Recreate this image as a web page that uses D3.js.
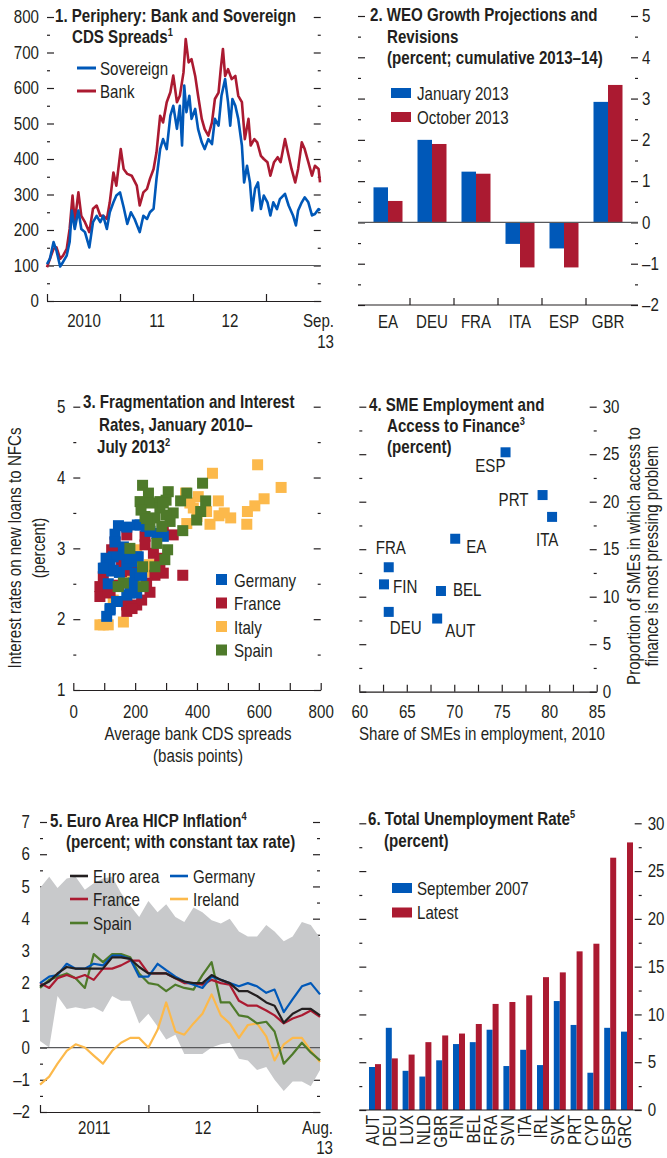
<!DOCTYPE html>
<html>
<head>
<meta charset="utf-8">
<script src="https://cdnjs.cloudflare.com/ajax/libs/d3/7.8.5/d3.min.js"></script>
<style>
body { margin: 0; background: #fff; }
svg text { font-family: "Liberation Sans", Arial, sans-serif; font-size: 18px; fill: #231f20; }
svg text.title { font-weight: bold; font-size: 18px; }
.tick line, .domain { stroke: #231f20; stroke-width: 1.2; }
</style>
</head>
<body>
<svg id="chart" width="667" height="1158"></svg>
<script>
// ---- panel 1: CDS spreads (decimal year, basis points)
let sovereign = [[2010.00,104],[2010.04,119],[2010.09,166],[2010.13,142],[2010.18,97],[2010.22,110],[2010.27,128],[2010.31,166],[2010.34,255],[2010.38,203],[2010.43,255],[2010.47,203],[2010.52,194],[2010.58,151],[2010.63,222],[2010.68,240],[2010.73,222],[2010.77,240],[2010.82,203],[2010.86,250],[2010.91,278],[2010.95,297],[2011.00,306],[2011.05,264],[2011.10,217],[2011.15,250],[2011.20,231],[2011.27,194],[2011.32,240],[2011.37,231],[2011.41,250],[2011.46,260],[2011.50,344],[2011.55,428],[2011.59,456],[2011.64,428],[2011.69,522],[2011.73,550],[2011.78,485],[2011.82,550],[2011.85,438],[2011.88,607],[2011.91,532],[2011.95,578],[2011.98,513],[2012.03,541],[2012.07,484],[2012.12,447],[2012.16,428],[2012.21,456],[2012.26,442],[2012.30,513],[2012.35,494],[2012.39,578],[2012.44,625],[2012.48,560],[2012.51,494],[2012.54,569],[2012.58,550],[2012.62,513],[2012.67,438],[2012.70,334],[2012.74,381],[2012.78,334],[2012.81,255],[2012.85,316],[2012.89,334],[2012.93,259],[2012.97,297],[2013.02,278],[2013.06,241],[2013.10,278],[2013.15,259],[2013.19,287],[2013.26,302],[2013.31,269],[2013.37,241],[2013.41,213],[2013.44,255],[2013.49,278],[2013.53,292],[2013.58,278],[2013.63,241],[2013.67,245],[2013.72,259],[2013.74,255]];
let bank = [[2010.00,95],[2010.04,119],[2010.09,147],[2010.13,151],[2010.18,119],[2010.22,128],[2010.27,147],[2010.31,203],[2010.35,297],[2010.38,222],[2010.43,306],[2010.47,240],[2010.52,222],[2010.58,194],[2010.63,260],[2010.68,269],[2010.73,240],[2010.77,240],[2010.82,231],[2010.86,278],[2010.91,362],[2010.95,325],[2011.01,428],[2011.05,372],[2011.10,358],[2011.16,353],[2011.23,325],[2011.27,269],[2011.32,306],[2011.37,316],[2011.41,344],[2011.46,372],[2011.50,419],[2011.55,522],[2011.59,503],[2011.64,560],[2011.69,588],[2011.73,635],[2011.78,560],[2011.82,578],[2011.87,644],[2011.90,738],[2011.94,672],[2011.98,681],[2012.03,634],[2012.07,578],[2012.12,513],[2012.16,484],[2012.21,466],[2012.26,503],[2012.30,569],[2012.35,587],[2012.38,653],[2012.41,710],[2012.44,634],[2012.48,653],[2012.53,625],[2012.58,634],[2012.62,578],[2012.67,560],[2012.71,456],[2012.76,513],[2012.79,438],[2012.84,456],[2012.88,447],[2012.93,409],[2012.97,400],[2013.02,391],[2013.06,353],[2013.11,391],[2013.16,405],[2013.20,391],[2013.26,456],[2013.31,409],[2013.35,372],[2013.40,334],[2013.44,372],[2013.49,447],[2013.53,428],[2013.58,391],[2013.63,353],[2013.67,381],[2013.72,372],[2013.74,334]];

// ---- panel 2: WEO growth projections
let weoCountries = ['EA', 'DEU', 'FRA', 'ITA', 'ESP', 'GBR'];
let weoJan = [0.85, 2.0, 1.23, -0.52, -0.63, 2.92];
let weoOct = [0.52, 1.9, 1.18, -1.09, -1.09, 3.33];

// ---- panel 3: bank CDS (bp) vs lending rate (percent)
let germany = [[146,3.32],[173,3.30],[207,3.33],[235,3.31],[135,3.20],[270,3.21],[291,3.17],[248,3.24],[162,3.02],[162,2.91],[129,2.88],[108,2.79],[102,2.72],[124,2.68],[149,2.66],[173,2.77],[189,2.81],[210,2.88],[200,2.65],[221,2.62],[194,2.51],[205,2.37],[173,2.34],[113,2.50],[142,2.25],[119,2.13],[108,2.04],[106,2.86],[135,3.09],[183,2.86],[119,2.77],[129,2.69],[216,2.62],[183,2.37],[140,2.25],[119,2.15],[97,2.72],[216,3.33],[205,2.88]];
let france = [[86,2.46],[86,2.32],[119,2.37],[146,2.48],[173,2.20],[173,2.11],[205,2.20],[221,2.27],[248,2.38],[146,2.95],[135,3.09],[124,2.98],[173,3.19],[232,3.17],[232,3.05],[259,2.93],[291,3.28],[323,3.19],[280,2.77],[291,2.65],[264,2.62],[354,2.62],[97,2.60],[108,2.74],[156,2.67],[156,2.81],[189,2.69],[237,3.28],[200,2.44],[237,2.51],[280,2.86],[113,2.40],[190,2.15]];
let italy = [[596,4.18],[450,4.06],[672,3.86],[617,3.70],[587,3.60],[563,3.52],[561,3.34],[469,3.67],[471,3.46],[509,3.43],[488,3.50],[442,3.34],[431,3.52],[404,3.73],[377,3.64],[363,3.78],[388,3.57],[367,3.35],[205,2.95],[246,2.77],[221,2.67],[183,2.60],[97,1.92],[113,1.92],[86,1.92],[162,1.96],[129,2.27],[237,2.67],[200,2.98],[400,3.45]];
let spain = [[224,3.89],[243,3.78],[216,3.66],[248,3.64],[232,3.45],[280,3.66],[307,3.80],[300,3.68],[280,3.57],[323,3.50],[300,3.47],[264,3.43],[313,3.38],[248,3.33],[367,3.78],[347,3.67],[428,3.67],[418,3.92],[412,3.52],[399,3.40],[354,3.25],[305,2.98],[270,3.07],[264,2.74],[224,2.74],[183,3.00],[226,2.46],[162,2.51],[145,2.46],[296,2.84],[219,3.54],[286,3.31],[291,3.64],[237,3.42]];

// ---- panel 4: SME employment share vs access to finance
let smeCountries = ['ESP', 'PRT', 'ITA', 'EA', 'FRA', 'FIN', 'BEL', 'DEU', 'AUT'];
let smeShare = [75.4, 79.3, 80.3, 70.1, 63.1, 62.6, 68.6, 63.1, 68.2];
let smeAccess = [25.2, 20.7, 18.4, 16.1, 13.1, 11.3, 10.6, 8.4, 7.7];

// ---- panel 5: HICP inflation, monthly Jan 2011 - Aug 2013
let euroArea = [1.9,2.05,2.3,2.5,2.45,2.45,2.45,2.45,2.8,2.8,2.75,2.5,2.3,2.3,2.3,2.15,2.05,2.0,2.0,2.25,2.1,2.0,1.75,1.75,1.6,1.4,1.3,0.77,1.05,1.2,1.2,1.0];
let germanyCpi = [2.0,2.2,2.25,2.6,2.45,2.45,2.6,2.55,2.85,2.85,2.75,2.2,2.2,2.6,2.4,2.2,2.05,1.95,1.85,2.2,2.1,2.0,1.9,2.0,1.9,1.7,1.8,1.1,1.5,1.9,2.0,1.65];
let franceCpi = [2.0,1.85,2.15,2.25,2.15,2.25,2.1,2.45,2.45,2.55,2.7,2.7,2.3,2.3,2.3,2.15,2.0,2.0,1.95,2.1,2.0,1.95,1.45,1.3,1.3,1.15,1.0,0.75,0.9,1.0,1.15,0.95];
let irelandCpi = [-1.15,-0.9,-0.5,-0.1,0.1,0.0,-0.25,-0.5,-0.1,0.15,0.3,0.3,0.0,0.55,1.4,0.5,0.4,0.75,1.05,1.65,1.0,0.75,0.3,0.7,0.75,0.35,-0.4,0.1,0.3,0.3,-0.1,-0.45];
let spainCpi = [1.85,2.1,2.2,2.3,2.15,1.85,2.9,2.65,2.9,2.9,2.8,2.3,2.0,1.95,1.75,1.95,1.85,1.8,2.25,2.65,1.4,1.4,1.0,0.95,0.75,0.8,0.5,-0.5,-0.2,0.15,-0.15,-0.4];
let rangeHigh = [4.95,5.3,4.95,5.25,5.3,4.9,5.1,5.25,5.3,4.8,4.4,4.05,4.55,4.2,4.45,4.05,3.9,4.35,4.2,3.95,3.85,4.0,3.6,3.45,3.45,3.8,3.6,3.3,3.45,3.9,3.8,3.4];
let rangeLow = [0.2,0.0,1.6,1.2,1.25,1.2,1.25,1.1,1.6,1.45,1.45,0.75,1.05,0.65,0.25,0.4,-0.2,-0.2,-0.2,0.0,0.1,0.15,-0.35,-0.4,-0.7,-0.6,-1.0,-1.35,-1.05,-1.05,-1.2,-0.7];

// ---- panel 6: unemployment
let uCountries = ['AUT','DEU','LUX','NLD','GBR','FIN','BEL','FRA','SVN','ITA','IRL','SVK','PRT','CYP','ESP','GRC'];
let uSep2007 = [4.5,8.6,4.1,3.5,5.2,6.9,7.1,8.4,4.6,6.3,4.7,11.4,8.9,3.9,8.6,8.2];
let uLatest = [4.8,5.4,5.8,7.1,7.8,8.0,9.0,11.1,11.3,12.0,13.9,14.4,16.6,17.4,26.4,28.0];

const svg = d3.select('#chart');
const ink = '#231f20', blue = '#0058b8', red = '#ab1a31', gold = '#fcb94b', green = '#4e7a2a', grey = '#c8c9cb';

function fmtNum(d) { return d < 0 ? '\u2013' + Math.abs(d) : String(d); }

// inward major/minor ticks on a vertical edge
function yTicks(scale, x, side, step, major, labels, pad) {
    let [lo, hi] = scale.domain();
    let vals = d3.range(lo, hi + step / 2, step);
    let isMajor = v => Math.abs(v / major - Math.round(v / major)) < 1e-6;
    let mk = side === 'left' ? d3.axisLeft : d3.axisRight;
    svg.append('g')
        .attr('transform', `translate(${x},0)`)
        .call(mk(scale).tickValues(vals.filter(isMajor)).tickSize(-7).tickPadding(pad || 0)
            .tickFormat(labels ? fmtNum : ''))
        .call(g => g.select('.domain').remove());
    svg.append('g')
        .attr('transform', `translate(${x},0)`)
        .call(mk(scale).tickValues(vals.filter(v => !isMajor(v))).tickSize(-3).tickFormat(''))
        .call(g => g.select('.domain').remove());
}

function text(x, y, str, cls, anchor) {
    return svg.append('text').attr('x', x).attr('y', y)
        .attr('class', cls || null).attr('text-anchor', anchor || 'start').text(str);
}

function sup(t, s) {
    t.append('tspan').attr('dy', -7).style('font-size', '11px').text(s);
}

// ================= panel 1
let x1 = d3.scaleLinear().domain([2010, 2013.75]).range([47, 320.75]);
let y1 = d3.scaleLinear().domain([0, 800]).range([301, 17]);

yTicks(y1, 47, 'left', 50, 100, true, 8);
yTicks(y1, 320.75, 'right', 50, 100, false);

svg.append('g').attr('transform', `translate(0,${y1(0)})`)
    .call(d3.axisBottom(x1).tickValues([2010, 2011, 2012, 2013]).tickSizeInner(-7).tickSizeOuter(0).tickFormat(''));
svg.append('g').attr('transform', `translate(0,${y1(0)})`)
    .call(d3.axisBottom(x1).tickValues([2010.5, 2011.5, 2012.5]).tickSize(0).tickPadding(13)
        .tickFormat(d => d < 2011 ? '2010' : String(Math.floor(d)).slice(2)))
    .call(g => g.select('.domain').remove());
text(334, 327, 'Sep.', null, 'end');
text(334, 348, '13', null, 'end');

svg.append('line').attr('x1', x1(2010)).attr('x2', x1(2013.75))
    .attr('y1', y1(100)).attr('y2', y1(100)).attr('stroke', '#58595b').attr('stroke-width', 1.2);

let line1 = d3.line().x(d => x1(d[0])).y(d => y1(d[1]));
svg.append('path').datum(bank).attr('d', line1).attr('fill', 'none')
    .attr('stroke', red).attr('stroke-width', 2.6).attr('stroke-linejoin', 'round');
svg.append('path').datum(sovereign).attr('d', line1).attr('fill', 'none')
    .attr('stroke', blue).attr('stroke-width', 2.6).attr('stroke-linejoin', 'round');

text(55, 22, '1. Periphery: Bank and Sovereign', 'title');
sup(text(72, 43, 'CDS Spreads', 'title'), '1');
[['Sovereign', blue], ['Bank', red]].forEach((d, i) => {
    let yy = 68 + i * 23;
    svg.append('line').attr('x1', 77).attr('x2', 96).attr('y1', yy).attr('y2', yy)
        .attr('stroke', d[1]).attr('stroke-width', 3);
    text(100, yy + 7, d[0]);
});

// ================= panel 2
let x2 = d3.scaleBand().domain(weoCountries).range([366, 630]);
let x2s = d3.scaleBand().domain(['jan', 'oct']).range([(x2.bandwidth() - 29) / 2, (x2.bandwidth() + 29) / 2]);
let y2 = d3.scaleLinear().domain([-2, 5]).range([305, 16]);

yTicks(y2, 358, 'left', 0.5, 1, false);
yTicks(y2, 638, 'right', 0.5, 1, true, 4);

let weoRows = weoCountries.map((c, i) => ({ c: c, jan: weoJan[i], oct: weoOct[i] }));
['jan', 'oct'].forEach(k => {
    svg.append('g').selectAll('rect').data(weoRows).enter().append('rect')
        .attr('x', d => x2(d.c) + x2s(k))
        .attr('width', x2s.bandwidth())
        .attr('y', d => y2(Math.max(0, d[k])))
        .attr('height', d => Math.abs(y2(d[k]) - y2(0)))
        .attr('fill', k === 'jan' ? blue : red);
});
svg.append('line').attr('x1', 358).attr('x2', 638).attr('y1', y2(0)).attr('y2', y2(0))
    .attr('stroke', '#58595b').attr('stroke-width', 1.2);
svg.append('line').attr('x1', 358).attr('x2', 638).attr('y1', y2(-2)).attr('y2', y2(-2))
    .attr('stroke', ink).attr('stroke-width', 1.2);
weoCountries.slice(1).forEach(c => {
    svg.append('line').attr('x1', x2(c)).attr('x2', x2(c)).attr('y1', y2(-2) - 7).attr('y2', y2(-2))
        .attr('stroke', ink).attr('stroke-width', 1.2);
});
svg.append('g').attr('transform', `translate(0,${y2(-2)})`)
    .call(d3.axisBottom(x2).tickSize(0).tickPadding(10))
    .call(g => g.select('.domain').remove());

text(370, 21, '2. WEO Growth Projections and', 'title');
text(387, 43, 'Revisions', 'title');
text(387, 64, '(percent; cumulative 2013\u201314)', 'title');
[['January 2013', blue], ['October 2013', red]].forEach((d, i) => {
    let yy = 88 + i * 24;
    svg.append('rect').attr('x', 391).attr('y', yy).attr('width', 20).attr('height', 10).attr('fill', d[1]);
    text(417, yy + 12, d[0]);
});

// ================= panel 3
let x3 = d3.scaleLinear().domain([0, 800]).range([73.3, 320.7]);
let y3 = d3.scaleLinear().domain([1, 5]).range([690, 406.7]);

yTicks(y3, 73.3, 'left', 0.5, 1, true, 8);
yTicks(y3, 320.7, 'right', 0.5, 1, false);
svg.append('g').attr('transform', `translate(0,${y3(1)})`)
    .call(d3.axisBottom(x3).tickValues(d3.range(0, 801, 100)).tickSizeInner(-7).tickSizeOuter(0)
        .tickPadding(15).tickFormat(d => d % 200 === 0 ? d : ''));

[[italy, gold], [france, red], [germany, blue], [spain, green]].forEach(s => {
    svg.append('g').selectAll('rect').data(s[0]).enter().append('rect')
        .attr('x', d => x3(d[0]) - 5.5).attr('y', d => y3(d[1]) - 5.5)
        .attr('width', 11).attr('height', 11).attr('fill', s[1]);
});

text(83, 408, '3. Fragmentation and Interest', 'title');
text(99, 431, 'Rates, January 2010\u2013', 'title');
sup(text(97, 453, 'July 2013', 'title'), '2');
[['Germany', blue], ['France', red], ['Italy', gold], ['Spain', green]].forEach((d, i) => {
    let yy = 574 + i * 23.5;
    svg.append('rect').attr('x', 216).attr('y', yy).attr('width', 11).attr('height', 11).attr('fill', d[1]);
    text(234, yy + 13, d[0]);
});
svg.append('text').attr('transform', 'translate(21,548) rotate(-90)').attr('text-anchor', 'middle')
    .text('Interest rates on new loans to NFCs');
svg.append('text').attr('transform', 'translate(45,548) rotate(-90)').attr('text-anchor', 'middle')
    .text('(percent)');
text(198, 740, 'Average bank CDS spreads', null, 'middle');
text(198, 762, '(basis points)', null, 'middle');

// ================= panel 4
let x4 = d3.scaleLinear().domain([60, 85]).range([359.3, 596.7]);
let y4 = d3.scaleLinear().domain([0, 30]).range([691.7, 406.7]);

yTicks(y4, 359.3, 'left', 2.5, 5, false);
yTicks(y4, 596.7, 'right', 2.5, 5, true, 6);
svg.append('g').attr('transform', `translate(0,${y4(0)})`)
    .call(d3.axisBottom(x4).tickValues(d3.range(60, 85.1, 2.5)).tickSizeInner(-7).tickSizeOuter(0)
        .tickPadding(13.5).tickFormat(d => d % 5 === 0 ? d : ''));

// label placement relative to each point (layout only)
let smeLabelPos = {
    ESP: [0, 20, 'end'], PRT: [-14, 11, 'end'], ITA: [-16, 29, 'start'], EA: [11, 14, 'start'],
    FRA: [-13, -13, 'start'], FIN: [9, 9, 'start'], BEL: [12, 5, 'start'], DEU: [1, 22, 'start'], AUT: [8, 18, 'start']
};
let smeRows = smeCountries.map((c, i) => ({ c: c, share: smeShare[i], access: smeAccess[i] }));
svg.append('g').selectAll('rect').data(smeRows).enter().append('rect')
    .attr('x', d => x4(d.share) - 5).attr('y', d => y4(d.access) - 5)
    .attr('width', 10).attr('height', 10).attr('fill', blue);
svg.append('g').selectAll('text').data(smeRows).enter().append('text')
    .attr('x', d => x4(d.share) + smeLabelPos[d.c][0])
    .attr('y', d => y4(d.access) + smeLabelPos[d.c][1])
    .attr('text-anchor', d => smeLabelPos[d.c][2])
    .text(d => d.c);

text(369, 411, '4. SME Employment and', 'title');
sup(text(387, 432, 'Access to Finance', 'title'), '3');
text(387, 453, '(percent)', 'title');
svg.append('text').attr('transform', 'translate(640,556) rotate(-90)').attr('text-anchor', 'middle')
    .text('Proportion of SMEs in which access to');
svg.append('text').attr('transform', 'translate(658,556) rotate(-90)').attr('text-anchor', 'middle')
    .text('finance is most pressing problem');
text(482, 740, 'Share of SMEs in employment, 2010', null, 'middle');

// ================= panel 5
let months = d3.timeMonth.range(new Date(2011, 0, 1), new Date(2013, 8, 1));
let x5 = d3.scaleTime().domain([new Date(2011, 0, 1), new Date(2013, 7, 1)]).range([40, 320]);
let y5 = d3.scaleLinear().domain([-2, 7]).range([1112, 822]);

yTicks(y5, 40, 'left', 0.5, 1, true, 10);
yTicks(y5, 320, 'right', 0.5, 1, false);

let area5 = d3.area().x((d, i) => x5(months[i])).y0((d, i) => y5(rangeLow[i])).y1(d => y5(d));
svg.append('path').datum(rangeHigh).attr('d', area5).attr('fill', grey);
svg.append('line').attr('x1', 40).attr('x2', 320).attr('y1', y5(0)).attr('y2', y5(0))
    .attr('stroke', '#58595b').attr('stroke-width', 1.2);

svg.append('g').attr('transform', `translate(0,${y5(-2)})`)
    .call(d3.axisBottom(x5).tickValues([new Date(2011, 0, 1), new Date(2012, 0, 1), new Date(2013, 0, 1)])
        .tickSizeInner(-7).tickSizeOuter(0).tickFormat(''));
svg.append('g').attr('transform', `translate(0,${y5(-2)})`)
    .call(d3.axisBottom(x5).tickValues([new Date(2011, 6, 1), new Date(2012, 6, 1)]).tickSize(0).tickPadding(9)
        .tickFormat(d => d.getFullYear() === 2011 ? '2011' : '12'))
    .call(g => g.select('.domain').remove());
text(333, 1134, 'Aug.', null, 'end');
text(333, 1154, '13', null, 'end');

let line5 = d3.line().x((d, i) => x5(months[i])).y(d => y5(d));
[[irelandCpi, gold], [spainCpi, green], [franceCpi, red], [germanyCpi, blue], [euroArea, ink]].forEach(s => {
    svg.append('path').datum(s[0]).attr('d', line5).attr('fill', 'none')
        .attr('stroke', s[1]).attr('stroke-width', 2.2).attr('stroke-linejoin', 'round');
});

sup(text(50, 827, '5. Euro Area HICP Inflation', 'title'), '4');
text(66, 848, '(percent; with constant tax rate)', 'title');
[['Euro area', ink, 70, 876], ['France', red, 70, 899], ['Spain', green, 70, 923],
 ['Germany', blue, 170, 876], ['Ireland', gold, 170, 899]].forEach(d => {
    svg.append('line').attr('x1', d[2]).attr('x2', d[2] + 18).attr('y1', d[3]).attr('y2', d[3])
        .attr('stroke', d[1]).attr('stroke-width', 2.6);
    text(d[2] + 23, d[3] + 7, d[0]);
});

// ================= panel 6
let x6 = d3.scaleBand().domain(uCountries).range([366.6, 635.4]);
let x6s = d3.scaleBand().domain(['sep', 'latest']).range([(x6.bandwidth() - 12) / 2, (x6.bandwidth() + 12) / 2]);
let y6 = d3.scaleLinear().domain([0, 30]).range([1110, 823.3]);

yTicks(y6, 359.3, 'left', 2.5, 5, false);
yTicks(y6, 641.7, 'right', 2.5, 5, true, 6);

let uRows = uCountries.map((c, i) => ({ c: c, sep: uSep2007[i], latest: uLatest[i] }));
['sep', 'latest'].forEach(k => {
    svg.append('g').selectAll('rect').data(uRows).enter().append('rect')
        .attr('x', d => x6(d.c) + x6s(k))
        .attr('width', x6s.bandwidth())
        .attr('y', d => y6(d[k]))
        .attr('height', d => y6(0) - y6(d[k]))
        .attr('fill', k === 'sep' ? blue : red);
});
svg.append('line').attr('x1', 359.3).attr('x2', 641.7).attr('y1', y6(0)).attr('y2', y6(0))
    .attr('stroke', ink).attr('stroke-width', 1.2);
svg.append('g').attr('transform', `translate(0,${y6(0)})`)
    .call(d3.axisBottom(x6).tickSize(0))
    .call(g => g.select('.domain').remove())
    .call(g => g.selectAll('text')
        .attr('transform', 'rotate(-90)').attr('text-anchor', 'end')
        .attr('x', -5).attr('y', -2).attr('dy', '0.35em'));

sup(text(368, 825, '6. Total Unemployment Rate', 'title'), '5');
text(384, 847, '(percent)', 'title');
[['September 2007', blue], ['Latest', red]].forEach((d, i) => {
    let yy = 883 + i * 24.5;
    svg.append('rect').attr('x', 392).attr('y', yy).attr('width', 20).attr('height', 10).attr('fill', d[1]);
    text(417, yy + 12, d[0]);
});

// condense every text along its own baseline direction (narrow type like the original)
svg.selectAll('text').each(function() {
    let t = d3.select(this);
    let x = +t.attr('x') || 0;
    let tr = t.attr('transform') || '';
    t.attr('transform', `${tr} translate(${x},0) scale(0.84,1) translate(${-x},0)`.trim());
});
</script>
</body>
</html>
